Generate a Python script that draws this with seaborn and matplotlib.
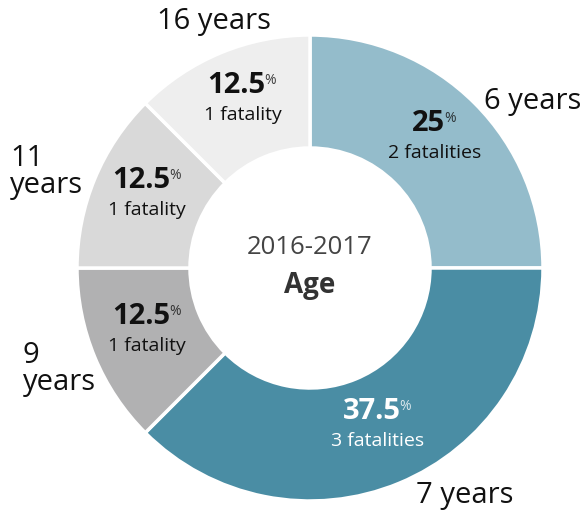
import matplotlib
matplotlib.use("Agg")
import matplotlib.pyplot as plt
import seaborn as sns
import numpy as np

sns.set_style("white")
plt.rcParams['font.family'] = ['Open Sans', 'DejaVu Sans']

# data
ages = ["6 years", "7 years", "9\nyears", "11\nyears", "16 years"]
fatalities = [2, 3, 1, 1, 1]
shares = ["25", "37.5", "12.5", "12.5", "12.5"]
counts = ["2 fatalities", "3 fatalities", "1 fatality", "1 fatality", "1 fatality"]
colors = ["#94bccb", "#4a8da4", "#b1b1b2", "#d9d9d9", "#eeeeee"]
text_colors = ["#111111", "#ffffff", "#111111", "#111111", "#111111"]

# outer label placement (pixels, from top-left) and alignment
label_pos = [(533, 102), (465, 495), (23, 369), (10, 172), (214, 22)]
label_ha = ["center", "center", "left", "left", "center"]

W, H = 586, 520
CX, CY = 310, 268
R_OUT, R_IN = 233, 120

fig = plt.figure(figsize=(W / 100, H / 100), dpi=100)
ax = fig.add_axes([0, 0, 1, 1])

wedges, _ = ax.pie(
    fatalities, colors=colors, startangle=90, counterclock=False,
    center=(CX, H - CY), radius=R_OUT,
    wedgeprops=dict(width=R_OUT - R_IN, edgecolor="white", linewidth=2.5),
)
ax.set_xlim(0, W)
ax.set_ylim(0, H)
ax.set_aspect("equal")
ax.axis("off")

fig.canvas.draw()
renderer = fig.canvas.get_renderer()

r_mid = (R_OUT + R_IN) / 2
for w, pct, cnt, tc in zip(wedges, shares, counts, text_colors):
    ang = np.deg2rad((w.theta1 + w.theta2) / 2)
    mx = CX + r_mid * np.cos(ang)
    my = (H - CY) + r_mid * np.sin(ang)
    num = ax.text(mx - 6, my + 12, pct, ha="center", va="baseline",
                  fontsize=21, fontweight="bold", color=tc)
    bb = num.get_window_extent(renderer)
    ax.annotate("%", xy=(bb.x1 - 1, bb.y1 - 2), xycoords="figure pixels",
                ha="left", va="top", fontsize=10, color=tc, alpha=0.8)
    ax.text(mx, my - 1, cnt, ha="center", va="top", fontsize=14, color=tc)

for lab, (px, py), ha in zip(ages, label_pos, label_ha):
    ax.text(px, H - py, lab, ha=ha, va="center", fontsize=21,
            color="#111111", linespacing=0.95, multialignment="left")

ax.text(CX, H - 248, "2016-2017", ha="center", va="center", fontsize=18.5,
        color="#444444")
ax.text(CX, H - 285, "Age", ha="center", va="center", fontsize=20,
        fontweight="bold", color="#333333")

fig.savefig("out.png", dpi=100)
